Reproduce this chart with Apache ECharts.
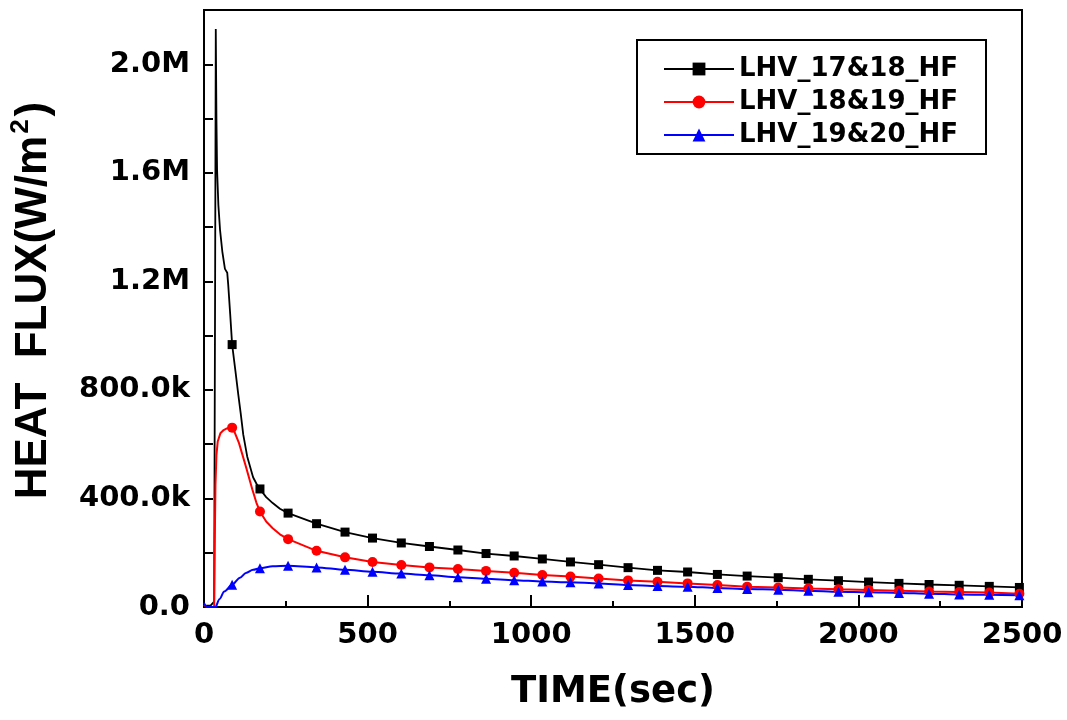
<!DOCTYPE html>
<html>
<head>
<meta charset="utf-8">
<script src="https://cdn.jsdelivr.net/npm/echarts@6/dist/echarts.min.js"></script>
<style>
html,body{margin:0;padding:0;background:#fff;}
#main{width:1067px;height:720px;}
</style>
</head>
<body>
<div id="main"></div>
<script>
// tick labels
var xTickLabels = ['0', '500', '1000', '1500', '2000', '2500'];
var yTickLabels = ['0.0', '400.0k', '800.0k', '1.2M', '1.6M', '2.0M'];

// times (sec) where the symbols sit
var markTime = [86, 171, 257, 344, 431, 515, 603, 689, 776, 862, 948, 1034, 1120, 1206,
                1296, 1386, 1478, 1569, 1660, 1755, 1847, 1939, 2031, 2124, 2216, 2308, 2400, 2492];

// heat flux at the symbols (W/m2)
var hf1718Mark = [967000, 435000, 346000, 307000, 276000, 254000, 236000, 223000, 210000, 197000, 188000, 177000, 166000, 156000,
                  145000, 135000, 129000, 120000, 114000, 108000, 102000, 97000, 92000, 87000, 83000, 80000, 76000, 72000];
var hf1819Mark = [661000, 352000, 250000, 207000, 183000, 166000, 155000, 146000, 140000, 133000, 126000, 118000, 112000, 105000,
                  98000, 93000, 87000, 81000, 75000, 72000, 68000, 65000, 63000, 60000, 57000, 55000, 53000, 49000];
var hf1920Mark = [82000, 143000, 152000, 146000, 137000, 130000, 123000, 117000, 110000, 104000, 99000, 94000, 91000, 87000,
                  81000, 77000, 75000, 70000, 66000, 64000, 60000, 56000, 54000, 52000, 49000, 46000, 45000, 43000];

// extra curve points between symbols (time, W/m2)
var hf1718Early = [[0, 5000], [20, 5000], [31, 20000], [34, 1200000], [36, 2130000], [38, 1800000], [40, 1610000],
                   [44, 1480000], [49, 1390000], [56, 1310000], [64, 1246000], [71, 1232000], [74, 1188000], [80, 1080000],
                   [96, 870000], [105, 781000], [112, 715000], [120, 635000], [132, 555000], [150, 478000], [160, 455000],
                   [190, 405000], [210, 383000], [232, 362000]];
var hf1819Early = [[0, 8000], [8, 0], [31, 0], [33, 250000], [35, 450000], [38, 560000], [42, 610000], [50, 640000],
                   [60, 652000], [70, 658000], [78, 661000], [95, 640000], [107, 604000], [128, 518000], [148, 432000],
                   [160, 385000], [190, 315000], [210, 290000], [232, 268000]];
var hf1920Early = [[0, 15000], [8, 0], [35, 0], [47, 29000], [62, 57000], [110, 108000], [128, 125000], [150, 137000],
                   [210, 150000]];

function buildData(early, mark) {
    var d = [];
    early.forEach(function (p) {
        d.push({ value: p, symbol: 'none' });
    });
    mark.forEach(function (v, i) {
        d.push({ value: [markTime[i], v] });
    });
    d.sort(function (a, b) { return a.value[0] - b.value[0]; });
    return d;
}

var myChart = echarts.init(document.getElementById('main'));

var option = {
    animation: false,
    backgroundColor: '#fff',
    grid: {
        left: 204,
        right: 45,
        top: 10,
        bottom: 113,
        outerBoundsMode: 'none',
        containLabel: false,
        show: true,
        borderColor: '#000',
        borderWidth: 2
    },
    legend: {
        orient: 'vertical',
        left: 637,
        top: 40,
        padding: [16, 28, 6, 26],
        itemWidth: 70,
        itemHeight: 16,
        itemGap: 7,
        borderColor: '#000',
        borderWidth: 2,
        textStyle: { fontFamily: 'DejaVu Sans', fontWeight: 'bold', fontSize: 26, color: '#000' },
        data: ['LHV_17&18_HF', 'LHV_18&19_HF', 'LHV_19&20_HF']
    },
    xAxis: {
        type: 'value',
        min: 0,
        max: 2500,
        interval: 500,
        name: 'TIME(sec)',
        nameLocation: 'middle',
        nameGap: 67,
        nameTextStyle: { fontFamily: 'DejaVu Sans', fontWeight: 'bold', fontSize: 37, color: '#000' },
        axisLine: { lineStyle: { color: '#000', width: 2 } },
        axisTick: { inside: true, length: 12, lineStyle: { color: '#000', width: 2 } },
        minorTick: { show: true, splitNumber: 2, length: 6, lineStyle: { color: '#000', width: 2 } },
        splitLine: { show: false },
        axisLabel: {
            margin: 14,
            fontFamily: 'DejaVu Sans', fontWeight: 'bold', fontSize: 29, color: '#000',
            formatter: function (v) { var i = Math.round(v / 500); return xTickLabels[i] || ''; }
        }
    },
    yAxis: {
        type: 'value',
        min: 0,
        max: 2200000,
        interval: 400000,
        name: '{a|HEAT  FLUX(W/m}{b|2}{a|)}',
        nameLocation: 'middle',
        nameGap: 144,
        nameTextStyle: {
            padding: [0, 0, 0, 16],
            rich: {
                a: { fontFamily: 'Liberation Sans', fontWeight: 'bold', fontSize: 44, color: '#000', lineHeight: 52 },
                b: { fontFamily: 'Liberation Sans', fontWeight: 'bold', fontSize: 26, color: '#000', verticalAlign: 'top', lineHeight: 52, padding: [0, 3, 0, 2] }
            }
        },
        axisLine: { lineStyle: { color: '#000', width: 2 } },
        axisTick: { inside: true, length: 9, lineStyle: { color: '#000', width: 2 } },
        minorTick: { show: true, splitNumber: 2, length: 9, lineStyle: { color: '#000', width: 2 } },
        splitLine: { show: false },
        axisLabel: {
            margin: 14,
            fontFamily: 'DejaVu Sans', fontWeight: 'bold', fontSize: 29, color: '#000',
            formatter: function (v) {
                if (v % 400000 !== 0) return '';
                return yTickLabels[v / 400000] || '';
            }
        }
    },
    series: [
        {
            name: 'LHV_17&18_HF',
            type: 'line',
            symbol: 'rect',
            symbolSize: 9,
            showAllSymbol: true,
            color: '#000',
            lineStyle: { color: '#000', width: 1.8 },
            itemStyle: { color: '#000' },
            data: buildData(hf1718Early, hf1718Mark)
        },
        {
            name: 'LHV_18&19_HF',
            type: 'line',
            symbol: 'circle',
            symbolSize: 10,
            showAllSymbol: true,
            color: '#ff0000',
            lineStyle: { color: '#ff0000', width: 2 },
            itemStyle: { color: '#ff0000' },
            data: buildData(hf1819Early, hf1819Mark)
        },
        {
            name: 'LHV_19&20_HF',
            type: 'line',
            symbol: 'triangle',
            symbolSize: 10,
            showAllSymbol: true,
            smooth: 0.3,
            smoothMonotone: 'x',
            color: '#0000ff',
            lineStyle: { color: '#0000ff', width: 2 },
            itemStyle: { color: '#0000ff' },
            data: buildData(hf1920Early, hf1920Mark)
        }
    ]
};

myChart.setOption(option);
</script>
</body>
</html>
